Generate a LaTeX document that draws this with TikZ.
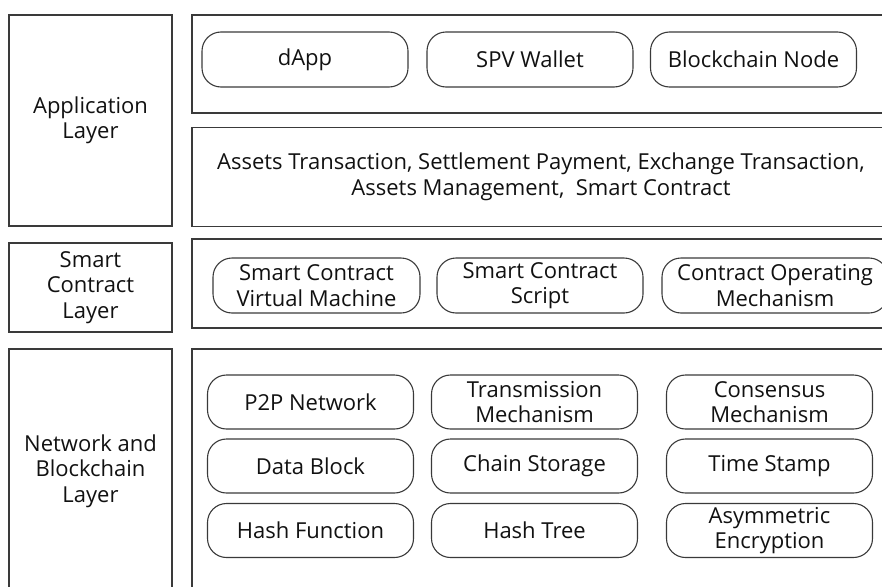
\documentclass[tikz,border=0pt]{standalone}
\usepackage{fontspec}
\setmainfont{Open Sans}
\usetikzlibrary{positioning}
\definecolor{edge}{HTML}{3A3A3A}
\definecolor{ink}{HTML}{111111}

\tikzset{
  layerbox/.style={draw=edge,line width=1.3pt,align=center,inner sep=0pt},
  itembox/.style={draw=edge,line width=1.1pt,rounded corners=19pt,align=center,inner sep=0pt,
    minimum width=206pt,minimum height=55pt},
}

\begin{document}
\begin{tikzpicture}[x=1pt,y=-1pt,font=\fontsize{22}{25.5}\selectfont,text=ink]
  \useasboundingbox (0,0) rectangle (882,586);
  \clip (0,0) rectangle (882,586);

  % layer names
  \node[layerbox,minimum width=163pt,minimum height=211pt] (applayer) at (90.5,120.5){Application\\Layer};
  \node[layerbox,minimum width=163pt,minimum height=89pt] (sclayer) at (90.5,287.5){Smart\\Contract\\Layer};
  \node[layerbox,minimum width=163pt,minimum height=244pt] (netlayer) at (90.5,471){Network and\\Blockchain\\Layer};

  % frames on the right
  \node[layerbox,minimum width=698pt,minimum height=98pt] (appframe) at (541,64){};
  \node[layerbox,minimum width=698pt,minimum height=99pt] (usecases) at (541,177)
    {Assets Transaction, Settlement Payment, Exchange Transaction,\\Assets Management,\ \ Smart Contract};
  \node[layerbox,minimum width=698pt,minimum height=89pt] (scframe) at (541,283.5){};
  \node[layerbox,minimum width=698pt,minimum height=244pt] (netframe) at (541,471){};

  % application layer
  \node[itembox] (dapp) at (305,59.5){dApp};
  \node[itembox] (spv) at (530,59.5){SPV Wallet};
  \node[itembox] (bcnode) at (753.5,59.5){Blockchain Node};

  % smart contract layer
  \node[itembox,minimum width=207pt] (scvm) at (316.5,285.5){Smart Contract\\Virtual Machine};
  \node[itembox] (scscript) at (540,285.5){Smart Contract\\Script};
  \node[itembox,minimum width=226pt] (scmech) at (775,285.5){Contract Operating\\Mechanism};

  % network and blockchain layer
  \node[itembox,minimum height=54pt] (p2p) at (310.5,402){P2P Network};
  \node[itembox,minimum height=54pt] (trans) at (534.5,402){Transmission\\Mechanism};
  \node[itembox,minimum height=54pt] (consensus) at (769.5,402){Consensus\\Mechanism};
  \node[itembox,minimum height=54pt] (datablock) at (310.5,466){Data Block};
  \node[itembox,minimum height=54pt] (chain) at (534.5,466){Chain Storage};
  \node[itembox,minimum height=54pt] (stamp) at (769.5,466){Time Stamp};
  \node[itembox,minimum height=54pt] (hashfn) at (310.5,530.5){Hash Function};
  \node[itembox,minimum height=54pt] (hashtree) at (534.5,530.5){Hash Tree};
  \node[itembox,minimum height=54pt] (asym) at (769.5,530.5){Asymmetric\\Encryption};
\end{tikzpicture}
\end{document}
